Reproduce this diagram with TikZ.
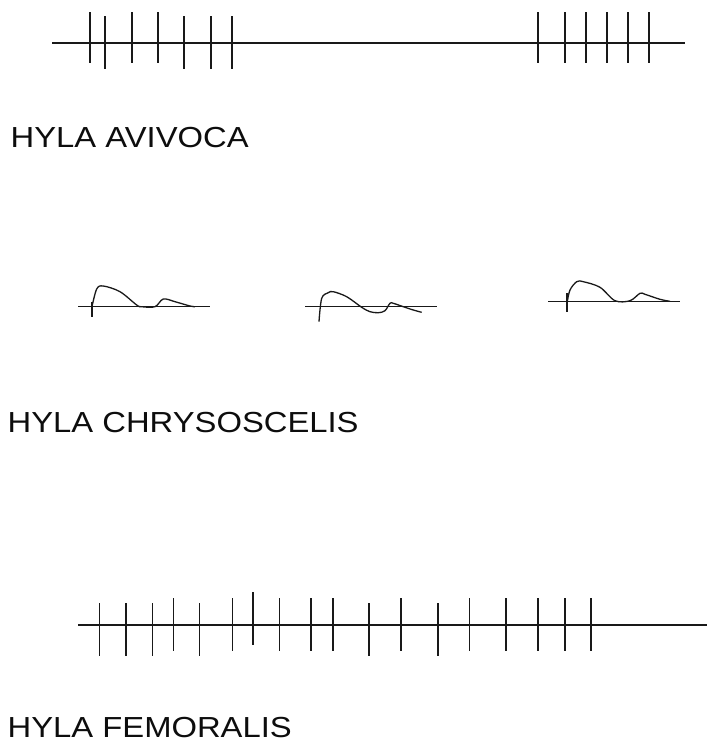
\documentclass[tikz,border=0pt]{standalone}
\usepackage{fontspec}
\newfontfamily\labfont[FakeStretch=1.13]{Liberation Sans}
\begin{document}
\begin{tikzpicture}[x=1pt,y=-1pt,
  baseline/.style={line width=1.5pt,black!90},
  tick/.style={line width=1.6pt,black!90},
  wave/.style={line width=1.3pt,black!90,smooth,tension=0.55},
  species/.style={font=\labfont\fontsize{29}{34}\selectfont,anchor=base west,inner sep=0pt,text=black!95}]
\useasboundingbox (0,0) rectangle (707,745);
% --- Hyla avivoca ---
\draw[baseline] (52,43) -- (685,43);
\foreach \x/\a/\b in {90/12/63,105/16/69,132/12/63,158/12/63,184/16/69,211/16/69,232/16/69,
                      538/12/63,565/12/63,586/12/63,607/12/63,628/12/63,649/12/63}
  \draw[tick] (\x,\a) -- (\x,\b);
\node[species] (t1) at (10.5,147.7) {HYLA AVIVOCA};
% --- Hyla chrysoscelis ---
\draw[baseline] (78,306.7) -- (210,306.7);
\draw[tick,line width=1.3pt] (92,302) -- (92,317);
\draw[wave] plot coordinates {(92,306.7) (96.7,289) (103.3,286) (120,291.7) (136.7,305) (141.7,306.7) (155,306.7) (163.3,299) (175,301.7) (190,306) (195,306.7)};
\draw[baseline] (305,306.7) -- (437,306.7);
\draw[wave] plot coordinates {(319,321.7) (321.7,298.3) (328.3,292.7) (333.3,291.7) (346.7,296.7) (361.7,307.3) (370,311.7) (378.3,312.7) (385,310.7) (390,303.3) (393.3,303.3) (403.3,306.7) (413.3,310) (421.7,312.3)};
\draw[baseline] (548,301.7) -- (680,301.7);
\draw[tick,line width=1.3pt] (567,293) -- (567,312);
\draw[wave] plot coordinates {(567.3,301.7) (570,290) (576.7,281.7) (583.3,281.7) (600,287.3) (615,300.7) (630,300.7) (640,293.3) (645,294.3) (660,299.3) (670,301.3)};
\node[species] (t2) at (7.5,432.7) {HYLA CHRYSOSCELIS};
% --- Hyla femoralis ---
\draw[baseline] (78,625) -- (707,625);
\foreach \x/\a/\b in {99.3/603/656,125.7/603/656,152.3/603/656,173.3/598/651,199.3/603/656,
                      232.3/598/651,252.7/592/645,279.3/598/651,310.7/598/651,332.7/598/651,369/603/656,
                      401/598/651,437.7/603/656,469.3/598/651,505.7/598/651,538/598/651,564.7/598/651,590.7/598/651}
  \draw[tick] (\x,\a) -- (\x,\b);
\node[species] (t3) at (7.5,737.3) {HYLA FEMORALIS};
\end{tikzpicture}
\end{document}
